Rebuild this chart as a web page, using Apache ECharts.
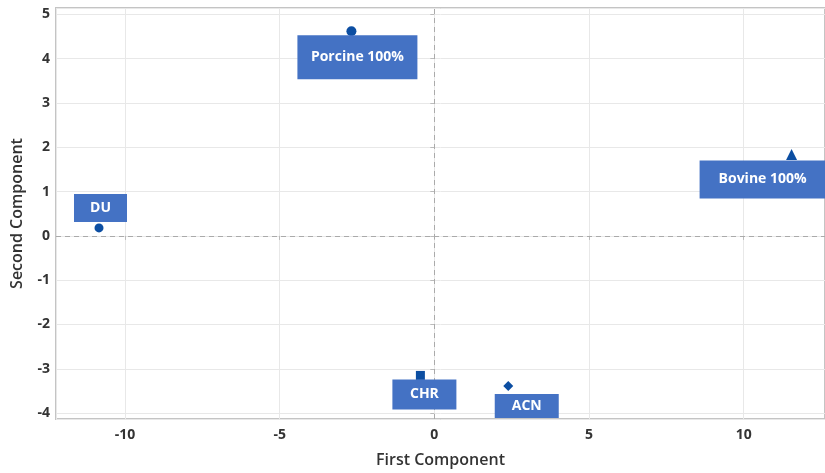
<!DOCTYPE html>
<html>
<head>
<meta charset="utf-8">
<script src="https://cdn.jsdelivr.net/npm/echarts@6/dist/echarts.min.js"></script>
<style>
html,body{margin:0;padding:0;background:#fff;}
#chart{width:825px;height:473px;}
</style>
</head>
<body>
<div id="chart"></div>
<script>
// Data
const names = ['Porcine 100%', 'Bovine 100%', 'DU', 'CHR', 'ACN'];
const firstComponent = [-2.68, 11.55, -10.84, -0.45, 2.39];
const secondComponent = [4.62, 1.84, 0.18, -3.15, -3.39];
const symbols = ['circle', 'triangle', 'circle', 'rect', 'diamond'];

// Label box styling (position offsets and sizes)
const labelBoxes = [
  {dx: 6, dy: 26, w: 120, h: 44},
  {dx: -29, dy: 25, w: 126, h: 38},
  {dx: 1.5, dy: -20, w: 53, h: 28},
  {dx: 4, dy: 19, w: 64, h: 30},
  {dx: 18.5, dy: 20, w: 64, h: 24}
];
const symbolSizes = [10, 11, 9, 9, 10];

const chart = echarts.init(document.getElementById('chart'));
const font = '"Open Sans", "Noto Sans", sans-serif';

const data = names.map((n, i) => ({
  name: n,
  value: [firstComponent[i], secondComponent[i]],
  symbol: symbols[i],
  symbolSize: symbolSizes[i],
  label: {
    show: true,
    position: 'inside',
    offset: [labelBoxes[i].dx, labelBoxes[i].dy],
    width: labelBoxes[i].w,
    height: labelBoxes[i].h,
    lineHeight: labelBoxes[i].h,
    align: 'center',
    verticalAlign: 'middle'
  }
}));

chart.setOption({
  animation: false,
  grid: {
    left: 56, right: 0, top: 8, bottom: 49,
    show: true, borderColor: '#c4c4c4', borderWidth: 2
  },
  xAxis: {
    type: 'value',
    min: -12.23, max: 12.63,
    splitNumber: 5,
    name: 'First Component',
    nameLocation: 'middle',
    nameGap: 33,
    nameTextStyle: {fontFamily: font, fontSize: 16, fontWeight: 600, color: '#333'},
    axisLine: {show: false},
    axisTick: {show: true, length: 4, lineStyle: {color: '#bbb'}},
    axisLabel: {showMinLabel: false, showMaxLabel: false, fontFamily: font, fontSize: 14, fontWeight: 700, color: '#333', margin: 9},
    splitLine: {show: true, lineStyle: {color: '#e8e8e8', width: 1}}
  },
  yAxis: {
    type: 'value',
    min: -4.134, max: 5.145,
    splitNumber: 9,
    name: 'Second Component',
    nameLocation: 'middle',
    nameGap: 31,
    nameTextStyle: {fontFamily: font, fontSize: 16, fontWeight: 600, color: '#333'},
    axisLine: {show: false},
    axisTick: {show: true, length: 4, lineStyle: {color: '#bbb'}},
    axisLabel: {showMinLabel: false, showMaxLabel: false, fontFamily: font, fontSize: 14, fontWeight: 700, color: '#333', margin: 6},
    splitLine: {show: true, lineStyle: {color: '#e8e8e8', width: 1}}
  },
  series: [{
    type: 'line',
    data: [],
    z: 1,
    silent: true,
    markLine: {
      silent: true,
      symbol: 'none',
      label: {show: false},
      lineStyle: {color: '#aaa', type: [5, 4], width: 1},
      data: [{xAxis: 0}, {yAxis: 0}]
    }
  }, {
    type: 'scatter',
    data: data,
    itemStyle: {color: '#0c4ea2', opacity: 1},
    label: {
      formatter: '{b}',
      color: '#fff',
      fontFamily: font,
      fontSize: 14,
      fontWeight: 700,
      backgroundColor: '#4472c4'
    },
    z: 5
  }]
});
</script>
</body>
</html>
